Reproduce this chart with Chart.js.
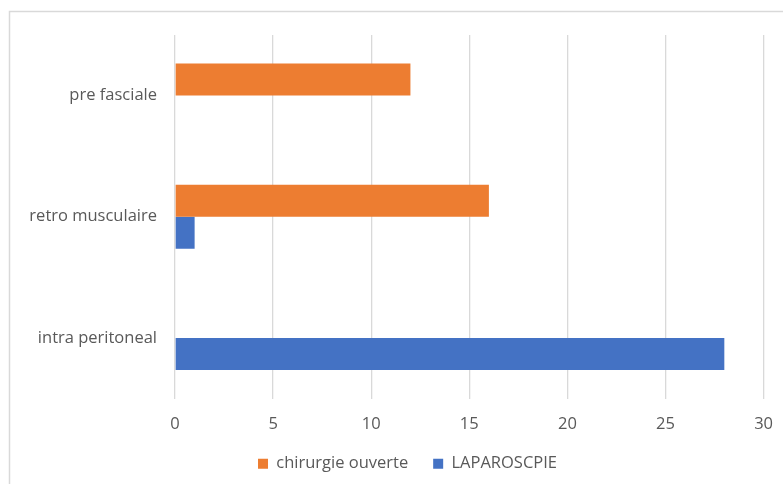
<!DOCTYPE html>
<html>
<head>
<meta charset="utf-8">
<script src="https://cdn.jsdelivr.net/npm/chart.js@4.4.1/dist/chart.umd.min.js"></script>
<style>
    html, body { margin: 0; padding: 0; background: #ffffff; }
    #wrap { width: 783px; height: 484px; position: relative; }
</style>
</head>
<body>
<div id="wrap"><canvas id="mesh-chart"></canvas></div>
<script>
// Mesh position by surgical approach
const positions = ['pre fasciale', 'retro musculaire', 'intra peritoneal'];
const openSurgery = [12, 16, 0];
const laparoscopy = [0, 1, 28];
const xTicks = [0, 5, 10, 15, 20, 25, 30];

const seriesNames = ['chirurgie ouverte', 'LAPAROSCPIE'];
const seriesColors = ['#ED7D31', '#4472C4'];

// Light frame around the chart (only top and left edges show)
const framePlugin = {
    id: 'frame',
    beforeDraw(chart) {
        const ctx = chart.ctx;
        ctx.save();
        ctx.strokeStyle = '#d9d9d9';
        ctx.lineWidth = 1.5;
        ctx.beginPath();
        ctx.moveTo(9.5, chart.height);
        ctx.lineTo(9.5, 11.5);
        ctx.lineTo(chart.width, 11.5);
        ctx.stroke();
        ctx.restore();
    }
};

// Legend sits a little right of the canvas centre
const legendShift = {
    id: 'legendShift',
    afterLayout(chart) {
        if (chart.legend) {
            chart.legend.left += 19;
            chart.legend.right += 19;
        }
    }
};

function initChart() {
    const ctx = document.getElementById('mesh-chart');
    const labelFont = { family: 'Open Sans', size: 16.5 };

    new Chart(ctx, {
        type: 'bar',
        data: {
            labels: positions,
            datasets: [{
                label: seriesNames[0],
                data: openSurgery,
                backgroundColor: seriesColors[0],
                borderWidth: 0
            }, {
                label: seriesNames[1],
                data: laparoscopy,
                backgroundColor: seriesColors[1],
                borderWidth: 0
            }]
        },
        options: {
            indexAxis: 'y',
            responsive: true,
            maintainAspectRatio: false,
            animation: false,
            categoryPercentage: 0.53,
            barPercentage: 1,
            layout: {
                padding: { left: 10, right: 16, top: 35, bottom: 2 }
            },
            scales: {
                x: {
                    min: 0,
                    max: 30,
                    afterBuildTicks: scale => {
                        scale.ticks = xTicks.map(v => ({ value: v }));
                    },
                    afterFit: scale => { scale.height = 32; },
                    grid: {
                        color: '#d9d9d9',
                        lineWidth: 1.3,
                        drawTicks: true,
                        tickLength: 6,
                        tickColor: 'rgba(0,0,0,0)'
                    },
                    border: { display: false },
                    ticks: {
                        color: '#595959',
                        padding: 10,
                        font: labelFont
                    }
                },
                y: {
                    afterFit: scale => { scale.width = 165; },
                    grid: { display: false },
                    border: { display: false },
                    ticks: {
                        color: '#595959',
                        padding: 10,
                        font: labelFont
                    }
                }
            },
            plugins: {
                legend: {
                    position: 'bottom',
                    labels: {
                        color: '#595959',
                        boxWidth: 10,
                        boxHeight: 10,
                        padding: 25,
                        font: labelFont
                    }
                },
                tooltip: { enabled: false }
            }
        },
        plugins: [framePlugin, legendShift]
    });
}

initChart();
</script>
</body>
</html>
